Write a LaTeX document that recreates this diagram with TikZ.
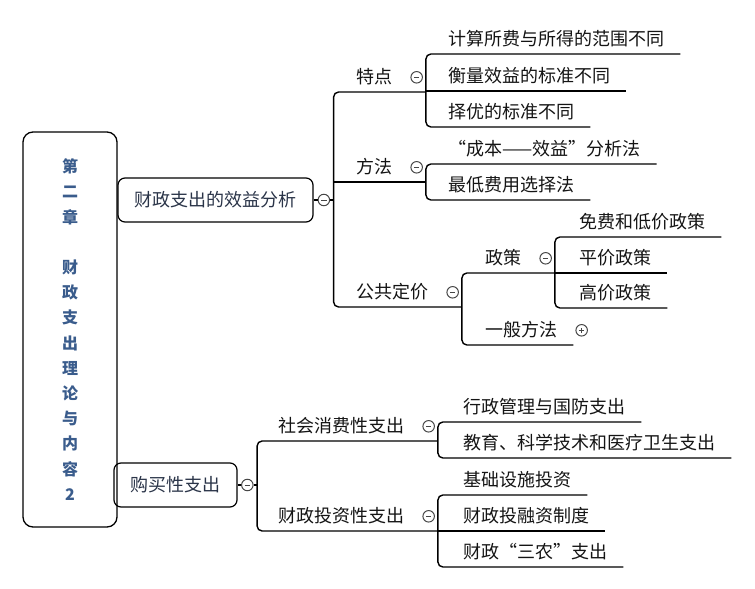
\documentclass[tikz,border=0pt]{standalone}
\usepackage{fontspec}
\setmainfont{Noto Sans CJK SC}
\usepackage{tikz}
\usetikzlibrary{positioning,calc}

\definecolor{rootblue}{RGB}{58,92,140}
\definecolor{boxtext}{RGB}{42,52,72}
\definecolor{foldgray}{RGB}{70,70,70}

\begin{document}
\begin{tikzpicture}[x=1pt, y=-1pt,
            every node/.style={font=\fontsize{18}{22}\selectfont, text=black!92},
            topic/.style={anchor=south west, inner xsep=0pt, inner ysep=8pt,
                          text height=13pt, text depth=0pt},
            subbox/.style={draw, line width=1.2pt, rounded corners=7pt,
                           minimum height=44pt, text=boxtext},
            fold/.style={draw=foldgray, line width=1pt, circle, inner sep=0pt,
                         minimum size=11.5pt,
                         path picture={\draw[foldgray, line width=1pt]
                            ([xshift=3pt]path picture bounding box.west) --
                            ([xshift=-3pt]path picture bounding box.east);}},
            unfold/.style={draw=foldgray, line width=1pt, circle, inner sep=0pt,
                         minimum size=11.5pt,
                         path picture={\draw[foldgray, line width=1pt]
                            ([xshift=3pt]path picture bounding box.west) --
                            ([xshift=-3pt]path picture bounding box.east)
                            ([yshift=3pt]path picture bounding box.south) --
                            ([yshift=-3pt]path picture bounding box.north);}},
            link/.style={draw, line width=1.4pt}]
        \useasboundingbox (0,0) rectangle (755,589);

        % central topic
        \node[draw, line width=1.3pt, rounded corners=10pt, minimum width=94pt,
              minimum height=395pt, align=center, text=rootblue,
              font=\fontsize{16}{25.2}\selectfont\bfseries] (root) at (70,329.5)
              {第\\二\\章\\~\\财\\政\\支\\出\\理\\论\\与\\内\\容\\2};

        % main branches
        \node[subbox, minimum width=195pt] (xy) at (215.5,200) {财政支出的效益分析};
        \node[subbox, minimum width=123pt] (gm) at (175.5,485) {购买性支出};
        \node[fold, right=4pt of xy] (xyc) {};
        \coordinate[right=3.5pt of xyc] (xyb);
        \node[fold, right=3.5pt of gm] (gmc) {};
        \coordinate[right=3.5pt of gmc] (gmb);
        \draw[link] (xy) -- (xyc) (xyc) -- (xyb);
        \draw[link] (gm) -- (gmc) (gmc) -- (gmb);

        % 财政支出的效益分析
        \node[topic] (td) at (356,92) {特点};
        \node[topic] (ff) at (356,182) {方法};
        \node[topic] (gj) at (356,307) {公共定价};
        \node[fold, right=18pt of td] (tdc) {};
        \node[fold, right=18pt of ff] (ffc) {};
        \node[fold, right=18pt of gj] (gjc) {};
        \coordinate[right=3pt of tdc] (tdb);
        \coordinate[right=3pt of ffc] (ffb);
        \coordinate[right=3pt of gjc] (gjb);
        \draw[link, rounded corners=5pt] (tdb |- td.south) -| (xyb) |- (gjb |- gj.south);
        \draw[link] (xyb |- ff.south) -- (ffb |- ff.south);

        % 特点
        \node[topic] (td1) at (448,54) {计算所费与所得的范围不同};
        \node[topic] (td2) at (448,91) {衡量效益的标准不同};
        \node[topic] (td3) at (448,127) {择优的标准不同};
        \draw[link, rounded corners=5pt] ([xshift=16pt]td1.south east) -- (tdb |- td1.south)
              -- (tdb |- td3.south) -- ([xshift=16pt]td3.south east);
        \draw[link] (tdb |- td2.south) -- ([xshift=16pt]td2.south east);

        % 方法
        \node[topic] (ff1) at (448,164) {“成本——效益”分析法};
        \node[topic] (ff2) at (448,200) {最低费用选择法};
        \draw[link, rounded corners=5pt] ([xshift=16pt]ff1.south east) -- (ffb |- ff1.south)
              -- (ffb |- ff2.south) -- ([xshift=16pt]ff2.south east);

        % 公共定价
        \node[topic] (zc) at (485,273) {政策};
        \node[topic] (yb) at (485,345) {一般方法};
        \node[fold, right=18pt of zc] (zcc) {};
        \node[unfold, right=18pt of yb] (ybc) {};
        \coordinate[right=3pt of zcc] (zcb);
        \draw[link, rounded corners=5pt] (zcb |- zc.south) -- (gjb |- zc.south)
              -- (gjb |- yb.south) -- ([xshift=16pt]yb.south east);

        % 政策
        \node[topic] (zc1) at (579,237) {免费和低价政策};
        \node[topic] (zc2) at (579,273) {平价政策};
        \node[topic] (zc3) at (579,308) {高价政策};
        \draw[link, rounded corners=5pt] ([xshift=16pt]zc1.south east) -- (zcb |- zc1.south)
              -- (zcb |- zc3.south) -- ([xshift=16pt]zc3.south east);
        \draw[link] (zcb |- zc2.south) -- ([xshift=16pt]zc2.south east);

        % 购买性支出
        \node[topic] (sx) at (278,441) {社会消费性支出};
        \node[topic] (tz) at (278,531) {财政投资性支出};
        \node[fold, right=18pt of sx] (sxc) {};
        \node[fold, right=18pt of tz] (tzc) {};
        \coordinate[right=3pt of sxc] (sxb);
        \coordinate[right=3pt of tzc] (tzb);
        \draw[link, rounded corners=5pt] (sxb |- sx.south) -| (gmb) |- (tzb |- tz.south);

        % 社会消费性支出
        \node[topic] (sx1) at (463,422) {行政管理与国防支出};
        \node[topic] (sx2) at (463,458) {教育、科学技术和医疗卫生支出};
        \draw[link, rounded corners=5pt] ([xshift=16pt]sx1.south east) -- (sxb |- sx1.south)
              -- (sxb |- sx2.south) -- ([xshift=16pt]sx2.south east);

        % 财政投资性支出
        \node[topic] (tz1) at (463,495) {基础设施投资};
        \node[topic] (tz2) at (463,531) {财政投融资制度};
        \node[topic] (tz3) at (463,567) {财政“三农”支出};
        \draw[link, rounded corners=5pt] ([xshift=16pt]tz1.south east) -- (tzb |- tz1.south)
              -- (tzb |- tz3.south) -- ([xshift=16pt]tz3.south east);
        \draw[link] (tzb |- tz2.south) -- ([xshift=16pt]tz2.south east);
\end{tikzpicture}
\end{document}
